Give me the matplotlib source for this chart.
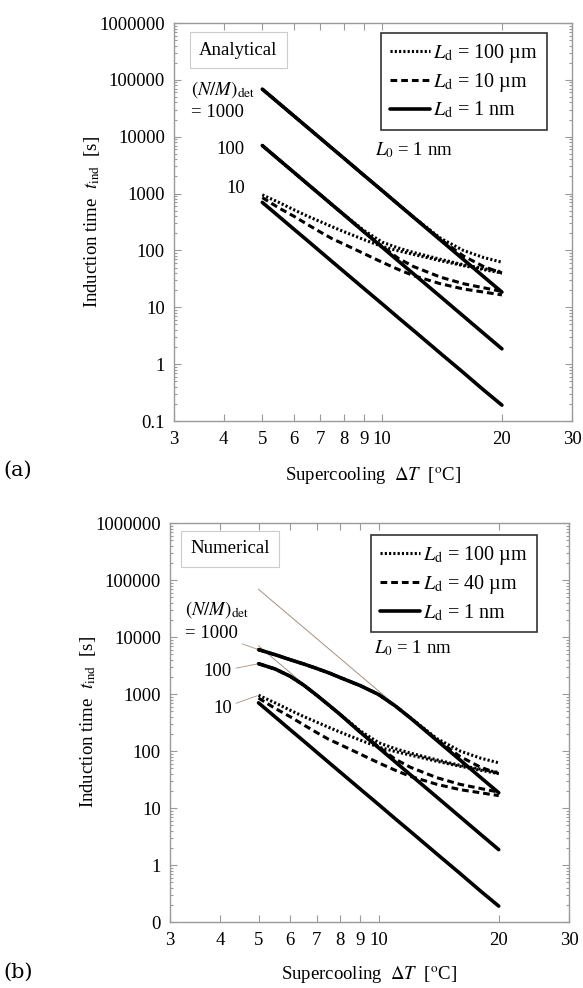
import matplotlib
matplotlib.use('Agg')
import matplotlib.pyplot as plt
from matplotlib.ticker import FixedLocator, FixedFormatter, LogLocator, NullFormatter, NullLocator
from matplotlib.lines import Line2D

plt.rcParams['font.family'] = ['Liberation Serif', 'DejaVu Serif']
plt.rcParams['mathtext.fontset'] = 'stix'

# ---------------- data ----------------
dT = [5, 5.5, 6, 6.5, 7, 7.5, 8, 9, 10, 11, 12, 14, 16, 18, 20]

# (a) Analytical
a_solid_1000 = [68700, 39000, 23300, 14500, 9350, 6200, 4240, 2100, 1130, 640, 382, 153, 69.5, 34.5, 18.5]
a_dash_1000 = [68700, 39000, 23300, 14500, 9350, 6200, 4240, 2100, 1130, 640, 383, 158, 80, 52, 40]
a_dot_1000 = [68700, 39000, 23300, 14500, 9350, 6200, 4240, 2100, 1130, 640, 385, 165, 100, 75, 62]
a_solid_100 = [7000, 3970, 2370, 1470, 948, 630, 430, 213, 114, 64.7, 38.6, 15.5, 7.0, 3.47, 1.86]
a_dash_100 = [7000, 3970, 2370, 1470, 948, 630, 430, 213, 118, 72, 52, 34, 26, 22, 19]
a_dot_100 = [7000, 3970, 2370, 1470, 948, 630, 432, 225, 140, 110, 92, 70, 56, 48, 42]
a_solid_10 = [700, 398, 237, 148, 95, 63, 43, 21.4, 11.5, 6.5, 3.9, 1.56, 0.71, 0.35, 0.19]
a_dash_10 = [850, 560, 400, 285, 210, 160, 130, 88, 62, 46, 36, 26, 21, 18.5, 16.5]
a_dot_10 = [950, 700, 520, 400, 320, 260, 215, 155, 117, 98, 85, 66, 54, 46, 40]

# (b) Numerical
b_solid_1000 = [6000, 4900, 4000, 3350, 2800, 2350, 1950, 1400, 980, 620, 382, 153, 69.5, 34.5, 18.5]
b_dash_1000 = [6000, 4900, 4000, 3350, 2800, 2350, 1950, 1400, 980, 620, 383, 158, 80, 52, 40]
b_dot_1000 = [6000, 4900, 4000, 3350, 2800, 2350, 1950, 1400, 980, 620, 385, 165, 100, 75, 62]
b_solid_100 = [3400, 2750, 2050, 1420, 950, 640, 440, 213, 114, 64.7, 38.6, 15.5, 7.0, 3.47, 1.86]
b_dash_100 = [3400, 2750, 2050, 1420, 950, 640, 440, 213, 118, 72, 52, 34, 26, 22, 19]
b_dot_100 = [3400, 2750, 2050, 1420, 950, 640, 442, 225, 140, 110, 92, 70, 56, 48, 42]
b_solid_10 = [700, 398, 237, 148, 95, 63, 43, 21.4, 11.5, 6.5, 3.9, 1.56, 0.71, 0.35, 0.19]
b_dash_10 = [850, 560, 400, 285, 210, 160, 130, 88, 62, 46, 36, 26, 21, 18.5, 16.5]
b_dot_10 = [950, 700, 520, 400, 320, 260, 215, 155, 117, 98, 85, 66, 54, 46, 40]

x_ticks = [3, 4, 5, 6, 7, 8, 9, 10, 20, 30]
x_ticklabels = ['3', '4', '5', '6', '7', '8', '9', '10', '20', '30']
y_ticks = [0.1, 1, 10, 100, 1000, 10000, 100000, 1000000]
y_ticklabels_a = ['0.1', '1', '10', '100', '1000', '10000', '100000', '1000000']
y_ticklabels_b = ['0', '1', '10', '100', '1000', '10000', '100000', '1000000']

legend_a = [r'$L_{\mathrm{d}}$ = 100 µm', r'$L_{\mathrm{d}}$ = 10 µm', r'$L_{\mathrm{d}}$ = 1 nm']
legend_b = [r'$L_{\mathrm{d}}$ = 100 µm', r'$L_{\mathrm{d}}$ = 40 µm', r'$L_{\mathrm{d}}$ = 1 nm']

# ---------------- style ----------------
FS = 13.5
LFS = 14.5
SPINE = '#9a9a9a'
THIN = '#a89080'
solid_kw = dict(color='black', lw=2.6, solid_capstyle='round', solid_joinstyle='round')
dash_kw = dict(color='black', lw=2.2, ls=(0, (2.2, 1.3)))
dot_kw = dict(color='black', lw=2.2, ls=(0, (0.7, 0.7)))

fig = plt.figure(figsize=(5.83, 9.88), dpi=100)
ax_a = fig.add_axes([174 / 583, 1 - 421 / 988, 398 / 583, 398 / 988])
ax_b = fig.add_axes([170 / 583, 1 - 922 / 988, 399 / 583, 399 / 988])


def setup(ax, ylabels):
    ax.set_xscale('log')
    ax.set_yscale('log')
    ax.set_xlim(3, 30)
    ax.set_ylim(0.1, 1e6)
    ax.xaxis.set_major_locator(FixedLocator(x_ticks))
    ax.xaxis.set_major_formatter(FixedFormatter(x_ticklabels))
    ax.xaxis.set_minor_locator(NullLocator())
    ax.yaxis.set_major_locator(FixedLocator(y_ticks))
    ax.yaxis.set_major_formatter(FixedFormatter(ylabels))
    ax.yaxis.set_minor_locator(LogLocator(base=10, subs=range(2, 10), numticks=30))
    ax.yaxis.set_minor_formatter(NullFormatter())
    ax.tick_params(which='both', direction='in', top=True, right=True, color=SPINE, width=0.8)
    ax.tick_params(which='major', length=5, labelsize=FS)
    ax.tick_params(which='minor', length=2.5)
    ax.tick_params(axis='y', pad=6.5)
    ax.tick_params(axis='x', pad=7)
    for s in ax.spines.values():
        s.set_color(SPINE)
        s.set_linewidth(1.0)
    ax.set_xlabel(r'Supercooling  $\Delta T$  [$^{\mathrm{o}}$C]', fontsize=FS)
    ax.set_ylabel(r'Induction time  $t_{\mathrm{ind}}$  [s]', fontsize=FS)


def draw(ax, s1000, d1000, p1000, s100, d100, p100, s10, d10, p10):
    for s in (s1000, s100, s10):
        ax.plot(dT, s, **solid_kw, zorder=3)
    for d in (d1000, d100, d10):
        ax.plot(dT, d, **dash_kw, zorder=4)
    for p in (p1000, p100, p10):
        ax.plot(dT, p, **dot_kw, zorder=5)


def legend(ax, labels, anchor):
    handles = [Line2D([], [], **dot_kw), Line2D([], [], **dash_kw), Line2D([], [], **solid_kw)]
    leg = ax.legend(handles, labels, loc='upper right', bbox_to_anchor=anchor, borderaxespad=0,
                    fontsize=LFS, frameon=True, fancybox=False, handlelength=2.0,
                    handletextpad=0.15, labelspacing=0.3, borderpad=0.45)
    leg.get_frame().set_edgecolor('black')
    leg.get_frame().set_linewidth(1.2)
    return leg


# ---------------- panel (a) ----------------
setup(ax_a, y_ticklabels_a)
draw(ax_a, a_solid_1000, a_dash_1000, a_dot_1000, a_solid_100, a_dash_100, a_dot_100,
     a_solid_10, a_dash_10, a_dot_10)
legend(ax_a, legend_a, (0.937, 0.975))
ax_a.text(0.161, 0.932, 'Analytical', transform=ax_a.transAxes, fontsize=FS, ha='center', va='center',
          bbox=dict(boxstyle='square,pad=0.5', fc='white', ec='#cccccc', lw=0.8))
ax_a.text(0.043, 0.832, r'$(N/M)_{\mathrm{det}}$', transform=ax_a.transAxes, fontsize=FS, va='center')
ax_a.text(0.043, 0.774, '= 1000', transform=ax_a.transAxes, fontsize=FS, va='center')
ax_a.text(0.178, 0.681, '100', transform=ax_a.transAxes, fontsize=FS, va='center', ha='right')
ax_a.text(0.178, 0.585, '10', transform=ax_a.transAxes, fontsize=FS, va='center', ha='right')
ax_a.text(0.505, 0.681, r'$L_0$ = 1 nm', transform=ax_a.transAxes, fontsize=FS, va='center')
ax_a.xaxis.set_label_coords(0.5, -0.138)
ax_a.xaxis.label.set_va('center')
ax_a.yaxis.set_label_coords(-0.205, 0.5)
ax_a.yaxis.label.set_va('center')

# ---------------- panel (b) ----------------
setup(ax_b, y_ticklabels_b)
ax_b.plot(dT, a_solid_1000, color=THIN, lw=0.7, zorder=2)
ax_b.plot(dT, a_solid_100, color=THIN, lw=0.7, zorder=2)
draw(ax_b, b_solid_1000, b_dash_1000, b_dot_1000, b_solid_100, b_dash_100, b_dot_100,
     b_solid_10, b_dash_10, b_dot_10)
legend(ax_b, legend_b, (0.92, 0.97))
ax_b.text(0.150, 0.935, 'Numerical', transform=ax_b.transAxes, fontsize=FS, ha='center', va='center',
          bbox=dict(boxstyle='square,pad=0.5', fc='white', ec='#cccccc', lw=0.8))
ax_b.text(0.038, 0.782, r'$(N/M)_{\mathrm{det}}$', transform=ax_b.transAxes, fontsize=FS, va='center')
lead = dict(arrowstyle='-', color=THIN, lw=0.6, shrinkA=1, shrinkB=1)
ax_b.annotate('= 1000', xy=(dT[0], b_solid_1000[0]), xytext=(0.038, 0.724),
              textcoords='axes fraction', fontsize=FS, va='center', arrowprops=lead)
ax_b.annotate('100', xy=(dT[0], b_solid_100[0]), xytext=(0.155, 0.627),
              textcoords='axes fraction', fontsize=FS, va='center', ha='right', arrowprops=lead)
ax_b.annotate('10', xy=(dT[0], b_dot_10[0]), xytext=(0.155, 0.536),
              textcoords='axes fraction', fontsize=FS, va='center', ha='right', arrowprops=lead)
ax_b.text(0.511, 0.687, r'$L_0$ = 1 nm', transform=ax_b.transAxes, fontsize=FS, va='center')
ax_b.xaxis.set_label_coords(0.5, -0.133)
ax_b.xaxis.label.set_va('center')
ax_b.yaxis.set_label_coords(-0.205, 0.5)
ax_b.yaxis.label.set_va('center')

# panel letters
fig.text(3 / 583, 1 - 470 / 988, '(a)', fontsize=15, family=['DejaVu Serif'], va='center')
fig.text(3 / 583, 1 - 972 / 988, '(b)', fontsize=15, family=['DejaVu Serif'], va='center')

fig.savefig('out.png', dpi=100, facecolor='white')
